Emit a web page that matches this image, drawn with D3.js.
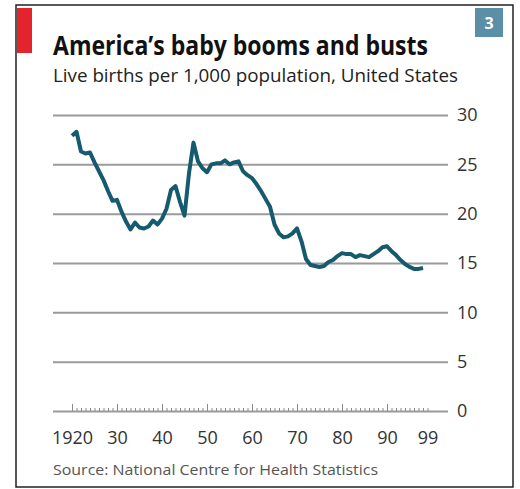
<!DOCTYPE html>
<html>
<head>
<meta charset="utf-8">
<script src="https://cdn.jsdelivr.net/npm/d3@7"></script>
<style>
  body { margin: 0; background: #fff; }
  text { font-family: "Open Sans", "Noto Sans", sans-serif; }
</style>
</head>
<body>
<div id="chart"></div>
<script>
// years and birth rates (live births per 1,000)
var years = [1920, 1921, 1922, 1923, 1924, 1925, 1926, 1927, 1928, 1929,
             1930, 1931, 1932, 1933, 1934, 1935, 1936, 1937, 1938, 1939,
             1940, 1941, 1942, 1943, 1944, 1945, 1946, 1947, 1948, 1949,
             1950, 1951, 1952, 1953, 1954, 1955, 1956, 1957, 1958, 1959,
             1960, 1961, 1962, 1963, 1964, 1965, 1966, 1967, 1968, 1969,
             1970, 1971, 1972, 1973, 1974, 1975, 1976, 1977, 1978, 1979,
             1980, 1981, 1982, 1983, 1984, 1985, 1986, 1987, 1988, 1989,
             1990, 1991, 1992, 1993, 1994, 1995, 1996, 1997, 1998];
var births = [27.9, 28.3, 26.3, 26.1, 26.2, 25.2, 24.3, 23.4, 22.3, 21.3,
              21.4, 20.2, 19.2, 18.4, 19.1, 18.6, 18.5, 18.7, 19.3, 18.9,
              19.5, 20.5, 22.4, 22.8, 21.2, 19.8, 24.1, 27.2, 25.3, 24.6,
              24.2, 25.0, 25.1, 25.1, 25.4, 25.0, 25.2, 25.3, 24.3, 23.9,
              23.6, 23.0, 22.3, 21.5, 20.7, 18.9, 18.0, 17.6, 17.7, 18.0,
              18.5, 17.2, 15.4, 14.8, 14.7, 14.6, 14.7, 15.1, 15.3, 15.7,
              16.0, 15.9, 15.9, 15.6, 15.8, 15.7, 15.6, 15.9, 16.2, 16.6,
              16.7, 16.2, 15.8, 15.3, 14.9, 14.6, 14.4, 14.4, 14.5];

// tick labels
var yTicks = [0, 5, 10, 15, 20, 25, 30];
var xLabelYears = [1920, 1930, 1940, 1950, 1960, 1970, 1980, 1990, 1999];

var width = 520, height = 489;

var svg = d3.select("#chart").append("svg")
    .attr("width", width)
    .attr("height", height);

// frame round the whole chart
svg.append("rect")
    .attr("x", 16).attr("y", 5)
    .attr("width", 497).attr("height", 482)
    .attr("fill", "#fff")
    .attr("stroke", "#222")
    .attr("stroke-width", 1.5);

// red tag top left
svg.append("rect")
    .attr("x", 17).attr("y", 8)
    .attr("width", 15).attr("height", 45)
    .attr("fill", "#e5232d");

// chart number box
svg.append("rect")
    .attr("x", 475).attr("y", 8)
    .attr("width", 28).attr("height", 29)
    .attr("fill", "#5b8fa7");
svg.append("text")
    .attr("x", 489).attr("y", 29)
    .attr("text-anchor", "middle")
    .attr("fill", "#fff")
    .style("font-size", "16px")
    .style("font-weight", "bold")
    .text("3");

// title and subtitle
svg.append("text")
    .attr("x", 53).attr("y", 55)
    .attr("textLength", 375)
    .attr("lengthAdjust", "spacingAndGlyphs")
    .attr("fill", "#111")
    .style("font-size", "26px")
    .style("font-weight", "bold")
    .text("America\u2019s baby booms and busts");

svg.append("text")
    .attr("x", 53).attr("y", 82)
    .attr("textLength", 405)
    .attr("lengthAdjust", "spacingAndGlyphs")
    .attr("fill", "#222")
    .style("font-size", "18px")
    .text("Live births per 1,000 population, United States");

// plot area (names kept off window.top etc.)
var plotLeft = 53, plotRight = 448, plotTop = 115, plotBottom = 411;

var xScale = d3.scaleLinear()
    .domain([1920, 1999])
    .range([72, 427.5]);

var yScale = d3.scaleLinear()
    .domain([0, 30])
    .range([plotBottom, plotTop]);

// gridlines + right hand labels
var yAxis = d3.axisRight(yScale)
    .tickValues(yTicks)
    .tickSize(-(plotRight - plotLeft))
    .tickPadding(9);

var gy = svg.append("g")
    .attr("transform", "translate(" + plotRight + ",0)")
    .call(yAxis);
gy.select(".domain").remove();
gy.selectAll(".tick line")
    .attr("stroke", "#9a9a9a")
    .attr("stroke-width", 2);
gy.selectAll(".tick text")
    .attr("fill", "#333")
    .style("font-size", "18px");

// yearly minor ticks pointing up from the baseline
var gx = svg.append("g")
    .attr("transform", "translate(0," + plotBottom + ")")
    .call(d3.axisTop(xScale).tickValues(years.concat([1999])).tickSize(3).tickFormat(""));
gx.select(".domain").remove();
gx.selectAll(".tick line")
    .attr("stroke", "#8a8a8a")
    .attr("y2", function(d) { return d % 10 == 0 ? -7 : -3; });

// year labels
var gxl = svg.append("g")
    .attr("transform", "translate(0," + plotBottom + ")")
    .call(d3.axisBottom(xScale)
        .tickValues(xLabelYears)
        .tickSize(0)
        .tickPadding(20)
        .tickFormat(function(d) { return d == 1920 ? "1920" : String(d).slice(2); }));
gxl.select(".domain").remove();
gxl.selectAll(".tick text")
    .attr("fill", "#333")
    .style("font-size", "18px");

// the birth rate line
var data = years.map(function(y, i) { return { year: y, value: births[i] }; });

var line = d3.line()
    .x(function(d) { return xScale(d.year); })
    .y(function(d) { return yScale(d.value); });

svg.append("path")
    .datum(data)
    .attr("d", line)
    .attr("fill", "none")
    .attr("stroke", "#155a6f")
    .attr("stroke-width", 4)
    .attr("stroke-linejoin", "round");

// source note
svg.append("text")
    .attr("x", 53).attr("y", 475)
    .attr("textLength", 325)
    .attr("lengthAdjust", "spacingAndGlyphs")
    .attr("fill", "#555")
    .style("font-size", "14px")
    .text("Source: National Centre for Health Statistics");
</script>
</body>
</html>
